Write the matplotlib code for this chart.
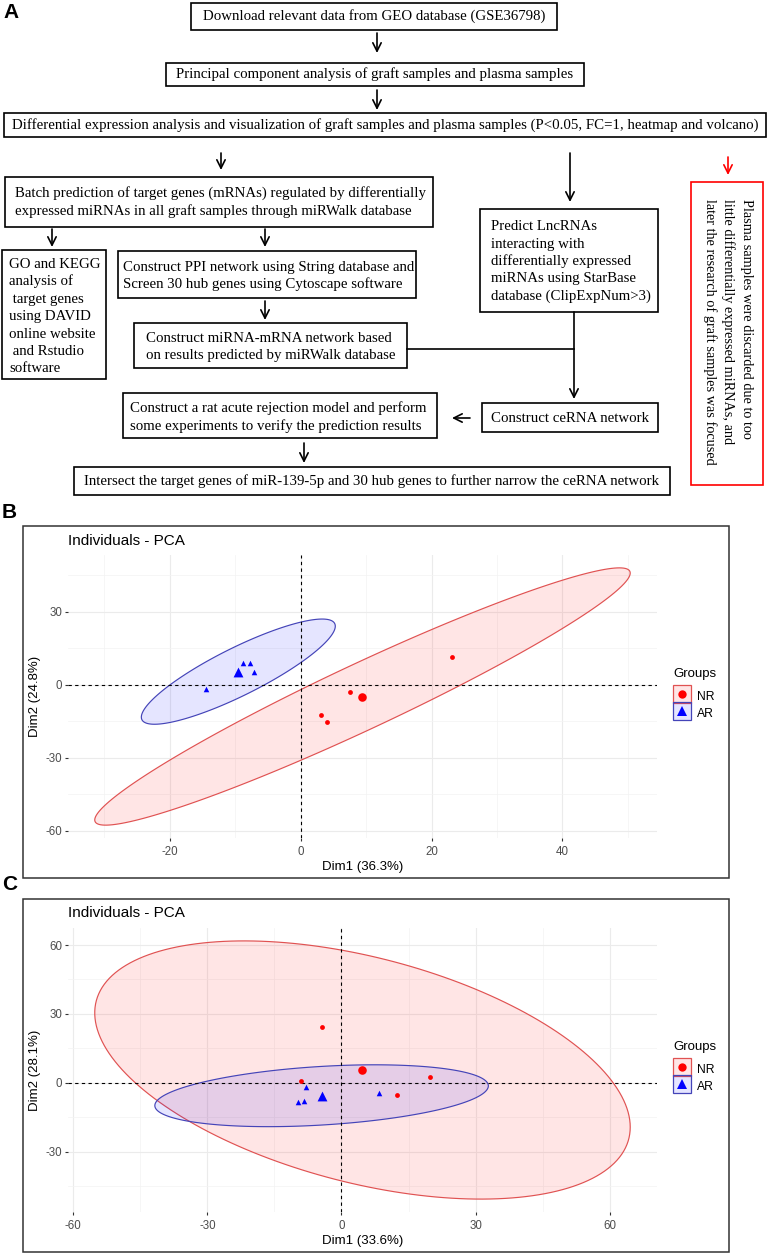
import numpy as np
import matplotlib
matplotlib.use("Agg")
import matplotlib.pyplot as plt
from matplotlib.patches import Rectangle, Polygon
from matplotlib.lines import Line2D
from matplotlib.legend_handler import HandlerTuple

plt.rcParams["axes.unicode_minus"] = False

# ---------------- data ----------------
# panel B: graft samples
b_nr_x = [23.2, 7.5, 3.1, 4.0]
b_nr_y = [11.4, -2.8, -12.6, -15.4]
b_ar_x = [-8.8, -7.7, -7.1, -14.5]
b_ar_y = [8.9, 8.9, 5.3, -1.6]
b_xlabel = "Dim1 (36.3%)"
b_ylabel = "Dim2 (24.8%)"
b_xticks = [-20, 0, 20, 40]
b_yticks = [-60, -30, 0, 30]

# panel C: plasma samples
c_nr_x = [-4.4, -9.1, 19.9, 12.4]
c_nr_y = [24.2, 0.9, 2.6, -5.3]
c_ar_x = [-8.0, -9.8, -8.3, 8.3]
c_ar_y = [-1.8, -8.3, -7.9, -4.4]
c_xlabel = "Dim1 (33.6%)"
c_ylabel = "Dim2 (28.1%)"
c_xticks = [-60, -30, 0, 30, 60]
c_yticks = [-30, 0, 30, 60]

groups = ["NR", "AR"]
legend_title = "Groups"
pca_title = "Individuals - PCA"

# panel A: flowchart steps
step_download = "Download relevant data from GEO database (GSE36798)"
step_pca = "Principal component analysis of graft samples and plasma samples"
step_deg = ("Differential expression analysis and visualization of graft samples "
            "and plasma samples (P<0.05, FC=1, heatmap and volcano)")
step_batch = ["Batch prediction of target genes (mRNAs) regulated by differentially",
              "expressed miRNAs in all graft samples through miRWalk database"]
step_go = ["GO and KEGG", "analysis of", " target genes", "using DAVID",
           "online website", " and Rstudio", "software"]
step_ppi = ["Construct PPI network using String database and",
            "Screen 30 hub genes using Cytoscape software"]
step_lnc = ["Predict LncRNAs", "interacting with", "differentially expressed",
            "miRNAs using StarBase", "database (ClipExpNum>3)"]
step_net = ["Construct miRNA-mRNA network based",
            "on results predicted by miRWalk database"]
step_cerna = "Construct ceRNA network"
step_rat = ["Construct a rat acute rejection model and perform",
            "some experiments to verify the prediction results"]
step_final = ("Intersect the target genes of miR-139-5p and 30 hub genes "
              "to further narrow the ceRNA network")
plasma_note = ["Plasma samples were discarded due to too",
               "little differentially expressed miRNAs, and",
               "later the research of graft samples was focused"]

W, H = 768, 1254
fig = plt.figure(figsize=(W / 100, H / 100), dpi=100)

SANS = "Liberation Sans"
SERIF = "Liberation Serif"
NR_FILL, NR_EDGE = (1, 0, 0, 0.1), "#E05252"
AR_FILL, AR_EDGE = (0, 0, 1, 0.1), "#4444B8"


def norm_ellipse(x, y, level=0.95, n_seg=200):
    # same as ggplot2 stat_ellipse(type = "norm")
    pts = np.column_stack([x, y])
    center = pts.mean(axis=0)
    cov = np.cov(pts, rowvar=False)
    dfd = len(pts) - 1
    q = dfd / 2 * ((1 - level) ** (-2 / dfd) - 1)  # qf(level, 2, dfd)
    radius = np.sqrt(2 * q)
    t = np.linspace(0, 2 * np.pi, n_seg)
    circle = np.column_stack([np.cos(t), np.sin(t)])
    return center + radius * circle @ np.linalg.cholesky(cov).T


def minor_breaks(ticks, lo, hi):
    step = ticks[1] - ticks[0]
    m = np.arange(ticks[0] - step / 2, ticks[-1] + step, step)
    return [v for v in m if lo <= v <= hi]


def pca_panel(px, nr_x, nr_y, ar_x, ar_y, xticks, yticks, xlabel, ylabel):
    left, top, right, bottom = px
    ax = fig.add_axes([left / W, 1 - bottom / H, (right - left) / W, (bottom - top) / H])
    e_nr = norm_ellipse(nr_x, nr_y)
    e_ar = norm_ellipse(ar_x, ar_y)
    allp = np.vstack([e_nr, e_ar])
    lo, hi = allp.min(axis=0), allp.max(axis=0)
    pad = (hi - lo) * 0.05
    ax.set_xlim(lo[0] - pad[0], hi[0] + pad[0])
    ax.set_ylim(lo[1] - pad[1], hi[1] + pad[1])

    ax.add_patch(Polygon(e_nr, closed=True, fc=NR_FILL, ec=NR_EDGE, lw=0.85, zorder=2))
    ax.add_patch(Polygon(e_ar, closed=True, fc=AR_FILL, ec=AR_EDGE, lw=0.85, zorder=2))

    ax.axhline(0, color="black", lw=0.8, ls=(0, (3, 3)), zorder=3)
    ax.axvline(0, color="black", lw=0.8, ls=(0, (3, 3)), zorder=3)

    ax.scatter(nr_x, nr_y, s=12, marker="o", color="red", lw=0, zorder=4)
    ax.scatter([np.mean(nr_x)], [np.mean(nr_y)], s=38, marker="o", color="red", lw=0, zorder=4)
    ax.scatter(ar_x, ar_y, s=16, marker="^", color="blue", lw=0, zorder=4)
    ax.scatter([np.mean(ar_x)], [np.mean(ar_y)], s=50, marker="^", color="blue", lw=0, zorder=4)

    ax.set_xticks(xticks)
    ax.set_yticks(yticks)
    xl, yl = ax.get_xlim(), ax.get_ylim()
    ax.set_xticks(minor_breaks(xticks, *xl), minor=True)
    ax.set_yticks(minor_breaks(yticks, *yl), minor=True)
    ax.grid(True, which="major", color="#EBEBEB", lw=0.8)
    ax.grid(True, which="minor", color="#F3F3F3", lw=0.5)
    ax.set_axisbelow(True)
    for s in ax.spines.values():
        s.set_visible(False)
    ax.tick_params(which="minor", length=0)
    ax.tick_params(axis="x", which="major", length=2.2, width=0.8, color="#333333",
                   pad=3.3, labelsize=8.3, labelcolor="#4D4D4D")
    ax.tick_params(axis="y", which="major", length=2.2, width=0.8, color="#333333",
                   pad=2.0, labelsize=8.3, labelcolor="#4D4D4D")
    for lab in ax.get_xticklabels() + ax.get_yticklabels():
        lab.set_family(SANS)
    ax.set_xlabel(xlabel, fontsize=9.5, family=SANS, labelpad=2.5)
    ax.set_ylabel(ylabel, fontsize=9.5, family=SANS, labelpad=3)

    # legend keys: filled square key with the group marker on top
    nr_key = Line2D([], [], ls="none", marker="s", ms=13.2, mfc=NR_FILL, mec=NR_EDGE, mew=0.9)
    ar_key = Line2D([], [], ls="none", marker="s", ms=13.2, mfc=AR_FILL, mec=AR_EDGE, mew=0.9)
    nr_mark = Line2D([], [], ls="none", marker="o", color="red", ms=6, mew=0)
    ar_mark = Line2D([], [], ls="none", marker="^", color="blue", ms=7, mew=0)
    ax.legend([(nr_key, nr_mark), (ar_key, ar_mark)], groups,
              handler_map={tuple: HandlerTuple(ndivide=1)},
              loc="upper left", bbox_to_anchor=(672 / W, 1 - (top + 133) / H),
              bbox_transform=fig.transFigure, frameon=False, borderpad=0,
              borderaxespad=0, handlelength=1.6, handleheight=1.6,
              handletextpad=0.5, labelspacing=0.14,
              prop={"family": SANS, "size": 8.7})
    fig.text(673 / W, 1 - (top + 119) / H, legend_title, fontsize=9.5, family=SANS,
             ha="left", va="center")
    return ax


ax_b = pca_panel((68, 555, 657, 838), b_nr_x, b_nr_y, b_ar_x, b_ar_y,
                 b_xticks, b_yticks, b_xlabel, b_ylabel)
ax_c = pca_panel((68, 928, 657, 1212), c_nr_x, c_nr_y, c_ar_x, c_ar_y,
                 c_xticks, c_yticks, c_xlabel, c_ylabel)

# overlay in pixel coordinates for the flowchart and frames
fa = fig.add_axes([0, 0, 1, 1])
fa.set_xlim(0, W)
fa.set_ylim(H, 0)
fa.axis("off")
fa.patch.set_visible(False)

FS = 10.7


def box(x0, y0, x1, y1, color="black"):
    fa.add_patch(Rectangle((x0, y0), x1 - x0, y1 - y0, fill=False, ec=color, lw=1.2))


def put(x, y, rows, ha="left", dy=17.4):
    if isinstance(rows, str):
        rows = [rows]
    for i, r in enumerate(rows):
        fa.text(x, y + i * dy, r, ha=ha, va="center", fontsize=FS, family=SERIF)


def arrow(x0, y0, x1, y1, color="black"):
    fa.annotate("", xy=(x1, y1), xytext=(x0, y0),
                arrowprops=dict(arrowstyle="->", color=color, lw=1.2,
                                mutation_scale=15, shrinkA=0, shrinkB=0))


fa.text(3, 12, "A", fontsize=15, fontweight="bold", family=SANS, va="center")

box(191, 3, 557, 30)
put(374, 16, step_download, ha="center")
arrow(377, 33, 377, 53)
box(166, 63, 584, 86)
put(375, 74, step_pca, ha="center")
arrow(377, 90, 377, 110)
box(4, 113, 766, 137)
put(385, 125, step_deg, ha="center")

arrow(221, 153, 221, 170)
arrow(570, 153, 570, 202)
arrow(728, 157, 728, 175, color="red")

box(5, 177, 433, 227)
put(15, 193, step_batch, dy=18)
box(480, 209, 658, 312)
put(491, 227, step_lnc, dy=17.3)

box(691, 182, 763, 485, color="red")
for i, line in enumerate(plasma_note):
    fa.text(746 - i * 18, 199, line, rotation=-90, ha="center", va="top",
            fontsize=10.3, family=SERIF)

arrow(52, 229, 52, 247)
arrow(265, 229, 265, 247)
box(2, 250, 106, 379)
put(9, 264, step_go, dy=17.5)
box(118, 251, 416, 298)
put(123, 267, step_ppi, dy=17)
arrow(265, 301, 265, 320)
box(134, 323, 407, 368)
put(146, 338, step_net, dy=17.5)

fa.plot([407, 574], [349, 349], color="black", lw=1.2)
arrow(574, 312, 574, 399)
box(482, 403, 658, 432)
put(570, 418, step_cerna, ha="center")
arrow(470, 418, 452, 418)
box(123, 393, 437, 438)
put(130, 408, step_rat, dy=18)
arrow(304, 443, 304, 463)
box(74, 467, 670, 495)
put(372, 481, step_final, ha="center")

# frames and labels of panels B and C
for lab, y0, y1, ty in [("B", 526, 878, 541), ("C", 899, 1252, 913)]:
    fa.add_patch(Rectangle((23, y0), 729 - 23, y1 - y0, fill=False, ec="#333333", lw=1.1))
    fa.text(2, y0 - 14, lab, fontsize=15, fontweight="bold", family=SANS, va="center")
    fa.text(68, ty, pca_title, fontsize=11, family=SANS, va="center", ha="left")

fig.savefig("out.png", dpi=100)
